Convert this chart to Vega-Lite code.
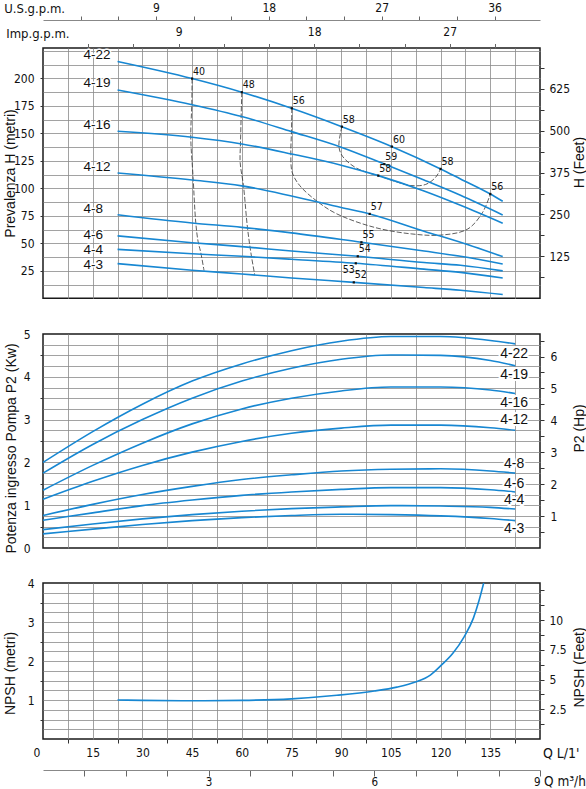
{
  "$schema": "https://vega.github.io/schema/vega-lite/v6.json",
  "padding": {"left": 2, "top": 0, "right": 0, "bottom": 0},
  "bounds": "flush",
  "spacing": 35,
  "config": {
    "view": {"stroke": "#1a1a1a", "strokeWidth": 1.5},
    "axis": {
      "labelFont": "DejaVu Sans Condensed, DejaVu Sans",
      "labelFontSize": 12,
      "labelColor": "#111",
      "titleFont": "Liberation Sans",
      "titleFontSize": 14,
      "titleFontWeight": "normal",
      "titleColor": "#111",
      "gridColor": "#8a8a8a",
      "gridWidth": 0.8,
      "tickColor": "#333",
      "tickWidth": 1,
      "domain": false
    },
    "line": {"color": "#1787d2", "strokeWidth": 1.6}
  },
  "datasets": {
    "head": [
      {"pump": "4-22", "Q": 22.5, "H": 215.2}, {"pump": "4-22", "Q": 45, "H": 199.7}, {"pump": "4-22", "Q": 60, "H": 187.3},
      {"pump": "4-22", "Q": 75, "H": 172.7}, {"pump": "4-22", "Q": 90, "H": 156.2}, {"pump": "4-22", "Q": 105, "H": 138.3},
      {"pump": "4-22", "Q": 120, "H": 117.6}, {"pump": "4-22", "Q": 126, "H": 108.5}, {"pump": "4-22", "Q": 135, "H": 94.8},
      {"pump": "4-22", "Q": 138.75, "H": 88.2},
      {"pump": "4-19", "Q": 22.5, "H": 189.4}, {"pump": "4-19", "Q": 45, "H": 176}, {"pump": "4-19", "Q": 60, "H": 165.2},
      {"pump": "4-19", "Q": 75, "H": 151.5}, {"pump": "4-19", "Q": 90, "H": 137.3}, {"pump": "4-19", "Q": 103, "H": 122},
      {"pump": "4-19", "Q": 115, "H": 107.5}, {"pump": "4-19", "Q": 126, "H": 93.6}, {"pump": "4-19", "Q": 138.75, "H": 75.7},
      {"pump": "4-16", "Q": 22.5, "H": 151.8}, {"pump": "4-16", "Q": 45, "H": 146.4}, {"pump": "4-16", "Q": 60, "H": 140.3},
      {"pump": "4-16", "Q": 75, "H": 131.2}, {"pump": "4-16", "Q": 90, "H": 121}, {"pump": "4-16", "Q": 101.2, "H": 111.5},
      {"pump": "4-16", "Q": 115, "H": 97.5}, {"pump": "4-16", "Q": 126, "H": 84.5}, {"pump": "4-16", "Q": 138.75, "H": 68.2},
      {"pump": "4-12", "Q": 22.5, "H": 113.9}, {"pump": "4-12", "Q": 45, "H": 107.5}, {"pump": "4-12", "Q": 60, "H": 102.2},
      {"pump": "4-12", "Q": 75, "H": 93}, {"pump": "4-12", "Q": 90, "H": 82.5}, {"pump": "4-12", "Q": 98.6, "H": 76.7},
      {"pump": "4-12", "Q": 115, "H": 61}, {"pump": "4-12", "Q": 126, "H": 51}, {"pump": "4-12", "Q": 138.75, "H": 37.9},
      {"pump": "4-8", "Q": 22.5, "H": 76}, {"pump": "4-8", "Q": 45, "H": 68.5}, {"pump": "4-8", "Q": 60, "H": 64.5},
      {"pump": "4-8", "Q": 75, "H": 59.5}, {"pump": "4-8", "Q": 96.1, "H": 50.9}, {"pump": "4-8", "Q": 115, "H": 43},
      {"pump": "4-8", "Q": 126, "H": 38.2}, {"pump": "4-8", "Q": 138.75, "H": 31.2},
      {"pump": "4-6", "Q": 22.5, "H": 56.7}, {"pump": "4-6", "Q": 45, "H": 50.5}, {"pump": "4-6", "Q": 60, "H": 47},
      {"pump": "4-6", "Q": 75, "H": 43}, {"pump": "4-6", "Q": 95, "H": 38.2}, {"pump": "4-6", "Q": 115, "H": 32.5},
      {"pump": "4-6", "Q": 126, "H": 30}, {"pump": "4-6", "Q": 138.75, "H": 24.9},
      {"pump": "4-4", "Q": 22.5, "H": 44.5}, {"pump": "4-4", "Q": 45, "H": 40.5}, {"pump": "4-4", "Q": 60, "H": 38.2},
      {"pump": "4-4", "Q": 75, "H": 35.5}, {"pump": "4-4", "Q": 94.4, "H": 31.8}, {"pump": "4-4", "Q": 115, "H": 26.5},
      {"pump": "4-4", "Q": 126, "H": 23.6}, {"pump": "4-4", "Q": 138.75, "H": 18.5},
      {"pump": "4-3", "Q": 22.5, "H": 31.5}, {"pump": "4-3", "Q": 45, "H": 25.5}, {"pump": "4-3", "Q": 60, "H": 22.1},
      {"pump": "4-3", "Q": 75, "H": 18.5}, {"pump": "4-3", "Q": 93.8, "H": 14.5}, {"pump": "4-3", "Q": 115, "H": 9.8},
      {"pump": "4-3", "Q": 126, "H": 7.3}, {"pump": "4-3", "Q": 138.75, "H": 3.4}
    ],
    "headLabels": [
      {"pump": "4-22", "Q": 12.2, "H": 220.9}, {"pump": "4-19", "Q": 12.2, "H": 195.5},
      {"pump": "4-16", "Q": 12.2, "H": 157.5}, {"pump": "4-12", "Q": 12.2, "H": 119},
      {"pump": "4-8", "Q": 12.2, "H": 81.2}, {"pump": "4-6", "Q": 12.2, "H": 57.2},
      {"pump": "4-4", "Q": 12.2, "H": 44}, {"pump": "4-3", "Q": 12.2, "H": 30}
    ],
    "eff": [
      {"eta": "40", "seq": 1, "Q": 45, "H": 199.7}, {"eta": "40", "seq": 2, "Q": 44.9, "H": 176},
      {"eta": "40", "seq": 3, "Q": 44.6, "H": 146.4}, {"eta": "40", "seq": 4, "Q": 45.3, "H": 110},
      {"eta": "40", "seq": 5, "Q": 46.1, "H": 69}, {"eta": "40", "seq": 6, "Q": 46.8, "H": 51.8},
      {"eta": "40", "seq": 7, "Q": 47.6, "H": 41.8}, {"eta": "40", "seq": 8, "Q": 48.6, "H": 25.2},
      {"eta": "48", "seq": 1, "Q": 60, "H": 187.3}, {"eta": "48", "seq": 2, "Q": 59.8, "H": 165.2},
      {"eta": "48", "seq": 3, "Q": 59.6, "H": 140.3}, {"eta": "48", "seq": 4, "Q": 59.5, "H": 123.6},
      {"eta": "48", "seq": 5, "Q": 60.5, "H": 102.4}, {"eta": "48", "seq": 6, "Q": 61.7, "H": 64.5},
      {"eta": "48", "seq": 7, "Q": 62.8, "H": 40.3}, {"eta": "48", "seq": 8, "Q": 63.9, "H": 21.3},
      {"eta": "56", "seq": 1, "Q": 75.1, "H": 172.7}, {"eta": "56", "seq": 2, "Q": 75, "H": 152},
      {"eta": "56", "seq": 3, "Q": 74.8, "H": 131.2}, {"eta": "56", "seq": 4, "Q": 75.2, "H": 114.5},
      {"eta": "56", "seq": 5, "Q": 77.5, "H": 102.4}, {"eta": "56", "seq": 6, "Q": 83.1, "H": 87.3},
      {"eta": "56", "seq": 7, "Q": 88.7, "H": 76.7}, {"eta": "56", "seq": 8, "Q": 100, "H": 64.5},
      {"eta": "56", "seq": 9, "Q": 111.3, "H": 58.5}, {"eta": "56", "seq": 10, "Q": 120.3, "H": 57.5},
      {"eta": "56", "seq": 11, "Q": 128.2, "H": 63}, {"eta": "56", "seq": 12, "Q": 132.7, "H": 78.2},
      {"eta": "56", "seq": 13, "Q": 135, "H": 94.8},
      {"eta": "58", "seq": 1, "Q": 90.2, "H": 156}, {"eta": "58", "seq": 2, "Q": 89.3, "H": 138.8},
      {"eta": "58", "seq": 3, "Q": 90, "H": 131}, {"eta": "58", "seq": 4, "Q": 91.8, "H": 124.5},
      {"eta": "58", "seq": 5, "Q": 94.5, "H": 118.5}, {"eta": "58", "seq": 6, "Q": 98, "H": 114.2},
      {"eta": "58", "seq": 7, "Q": 101.2, "H": 111.5}, {"eta": "58", "seq": 8, "Q": 106, "H": 106.5},
      {"eta": "58", "seq": 9, "Q": 111, "H": 102.5}, {"eta": "58", "seq": 10, "Q": 115.5, "H": 103.5},
      {"eta": "58", "seq": 11, "Q": 118.5, "H": 110}, {"eta": "58", "seq": 12, "Q": 120, "H": 117.6}
    ],
    "bep": [
      {"eta": "40", "pump": "4-22", "Q": 45, "H": 199.7},
      {"eta": "48", "pump": "4-22", "Q": 60, "H": 187.3},
      {"eta": "56", "pump": "4-22", "Q": 75.1, "H": 172.7},
      {"eta": "58", "pump": "4-22", "Q": 90.2, "H": 156},
      {"eta": "60", "pump": "4-22", "Q": 105.3, "H": 137.9},
      {"eta": "59", "pump": "4-19", "Q": 103, "H": 122},
      {"eta": "58", "pump": "4-16", "Q": 101.2, "H": 111.5},
      {"eta": "58", "pump": "4-22", "Q": 120, "H": 117.6},
      {"eta": "56", "pump": "4-22", "Q": 135, "H": 94.8},
      {"eta": "57", "pump": "4-12", "Q": 98.6, "H": 76.7},
      {"eta": "55", "pump": "4-8", "Q": 96.1, "H": 50.9},
      {"eta": "54", "pump": "4-6", "Q": 95, "H": 38.2},
      {"eta": "53", "pump": "4-4", "Q": 94.4, "H": 31.8},
      {"eta": "52", "pump": "4-3", "Q": 93.8, "H": 14.5}
    ],
    "power": [
      {"pump": "4-22", "Q": 0, "P": 2.0}, {"pump": "4-22", "Q": 15, "P": 2.72}, {"pump": "4-22", "Q": 30, "P": 3.36},
      {"pump": "4-22", "Q": 45, "P": 3.9}, {"pump": "4-22", "Q": 60, "P": 4.3}, {"pump": "4-22", "Q": 75, "P": 4.61},
      {"pump": "4-22", "Q": 90, "P": 4.83}, {"pump": "4-22", "Q": 105, "P": 4.94}, {"pump": "4-22", "Q": 120, "P": 4.94},
      {"pump": "4-22", "Q": 135, "P": 4.85}, {"pump": "4-22", "Q": 142.5, "P": 4.77},
      {"pump": "4-19", "Q": 0, "P": 1.75}, {"pump": "4-19", "Q": 15, "P": 2.42}, {"pump": "4-19", "Q": 30, "P": 3.0},
      {"pump": "4-19", "Q": 45, "P": 3.5}, {"pump": "4-19", "Q": 60, "P": 3.9}, {"pump": "4-19", "Q": 75, "P": 4.2},
      {"pump": "4-19", "Q": 90, "P": 4.41}, {"pump": "4-19", "Q": 105, "P": 4.51}, {"pump": "4-19", "Q": 120, "P": 4.5},
      {"pump": "4-19", "Q": 135, "P": 4.38}, {"pump": "4-19", "Q": 142.5, "P": 4.26},
      {"pump": "4-16", "Q": 0, "P": 1.35}, {"pump": "4-16", "Q": 15, "P": 1.93}, {"pump": "4-16", "Q": 30, "P": 2.45},
      {"pump": "4-16", "Q": 45, "P": 2.9}, {"pump": "4-16", "Q": 60, "P": 3.25}, {"pump": "4-16", "Q": 75, "P": 3.5},
      {"pump": "4-16", "Q": 90, "P": 3.67}, {"pump": "4-16", "Q": 105, "P": 3.76}, {"pump": "4-16", "Q": 120, "P": 3.76},
      {"pump": "4-16", "Q": 135, "P": 3.69}, {"pump": "4-16", "Q": 142.5, "P": 3.61},
      {"pump": "4-12", "Q": 0, "P": 1.14}, {"pump": "4-12", "Q": 15, "P": 1.56}, {"pump": "4-12", "Q": 30, "P": 1.93},
      {"pump": "4-12", "Q": 45, "P": 2.24}, {"pump": "4-12", "Q": 60, "P": 2.49}, {"pump": "4-12", "Q": 75, "P": 2.68},
      {"pump": "4-12", "Q": 90, "P": 2.8}, {"pump": "4-12", "Q": 105, "P": 2.87}, {"pump": "4-12", "Q": 120, "P": 2.87},
      {"pump": "4-12", "Q": 135, "P": 2.81}, {"pump": "4-12", "Q": 142.5, "P": 2.75},
      {"pump": "4-8", "Q": 0, "P": 0.76}, {"pump": "4-8", "Q": 15, "P": 1.02}, {"pump": "4-8", "Q": 30, "P": 1.25},
      {"pump": "4-8", "Q": 45, "P": 1.44}, {"pump": "4-8", "Q": 60, "P": 1.6}, {"pump": "4-8", "Q": 75, "P": 1.71},
      {"pump": "4-8", "Q": 90, "P": 1.8}, {"pump": "4-8", "Q": 105, "P": 1.84}, {"pump": "4-8", "Q": 120, "P": 1.85},
      {"pump": "4-8", "Q": 135, "P": 1.8}, {"pump": "4-8", "Q": 142.5, "P": 1.75},
      {"pump": "4-6", "Q": 0, "P": 0.65}, {"pump": "4-6", "Q": 15, "P": 0.82}, {"pump": "4-6", "Q": 30, "P": 0.99},
      {"pump": "4-6", "Q": 45, "P": 1.12}, {"pump": "4-6", "Q": 60, "P": 1.23}, {"pump": "4-6", "Q": 75, "P": 1.31},
      {"pump": "4-6", "Q": 90, "P": 1.37}, {"pump": "4-6", "Q": 105, "P": 1.41}, {"pump": "4-6", "Q": 120, "P": 1.41},
      {"pump": "4-6", "Q": 135, "P": 1.36}, {"pump": "4-6", "Q": 142.5, "P": 1.31},
      {"pump": "4-4", "Q": 0, "P": 0.43}, {"pump": "4-4", "Q": 15, "P": 0.56}, {"pump": "4-4", "Q": 30, "P": 0.68},
      {"pump": "4-4", "Q": 45, "P": 0.78}, {"pump": "4-4", "Q": 60, "P": 0.86}, {"pump": "4-4", "Q": 75, "P": 0.92},
      {"pump": "4-4", "Q": 90, "P": 0.96}, {"pump": "4-4", "Q": 105, "P": 0.99}, {"pump": "4-4", "Q": 120, "P": 0.98},
      {"pump": "4-4", "Q": 135, "P": 0.95}, {"pump": "4-4", "Q": 142.5, "P": 0.91},
      {"pump": "4-3", "Q": 0, "P": 0.33}, {"pump": "4-3", "Q": 15, "P": 0.44}, {"pump": "4-3", "Q": 30, "P": 0.55},
      {"pump": "4-3", "Q": 45, "P": 0.64}, {"pump": "4-3", "Q": 60, "P": 0.71}, {"pump": "4-3", "Q": 75, "P": 0.76},
      {"pump": "4-3", "Q": 90, "P": 0.79}, {"pump": "4-3", "Q": 105, "P": 0.78}, {"pump": "4-3", "Q": 120, "P": 0.75},
      {"pump": "4-3", "Q": 135, "P": 0.69}, {"pump": "4-3", "Q": 142.5, "P": 0.64}
    ],
    "powerLabels": [
      {"pump": "4-22", "Q": 142.2, "P": 4.53}, {"pump": "4-19", "Q": 142.2, "P": 4.05},
      {"pump": "4-16", "Q": 142.2, "P": 3.39}, {"pump": "4-12", "Q": 142.2, "P": 2.98},
      {"pump": "4-8", "Q": 142.2, "P": 1.96}, {"pump": "4-6", "Q": 142.2, "P": 1.5},
      {"pump": "4-4", "Q": 142.2, "P": 1.11}, {"pump": "4-3", "Q": 142.2, "P": 0.45}
    ],
    "npsh": [
      {"Q": 22.5, "N": 1.0}, {"Q": 30, "N": 0.99}, {"Q": 45, "N": 0.98}, {"Q": 60, "N": 0.99},
      {"Q": 75, "N": 1.03}, {"Q": 88.7, "N": 1.12}, {"Q": 100, "N": 1.23}, {"Q": 106.8, "N": 1.33},
      {"Q": 112.4, "N": 1.46}, {"Q": 116.9, "N": 1.64}, {"Q": 120.3, "N": 1.9}, {"Q": 123.7, "N": 2.2},
      {"Q": 127.1, "N": 2.62}, {"Q": 129.9, "N": 3.1}, {"Q": 131.6, "N": 3.55}, {"Q": 133, "N": 4.0}
    ]
  },
  "vconcat": [
    {
      "width": 497,
      "height": 250.3,
      "resolve": {"axis": {"x": "independent", "y": "independent"}},
      "layer": [
        {
          "data": {"name": "eff"},
          "mark": {"type": "line", "color": "#333", "strokeWidth": 0.8, "strokeDash": [5, 2], "interpolate": "catmull-rom"},
          "encoding": {
            "x": {
              "field": "Q", "type": "quantitative",
              "scale": {"domain": [0, 150], "nice": false, "zero": false},
              "axis": {
                "values": [7.5, 15, 22.5, 30, 37.5, 45, 52.5, 60, 67.5, 75, 82.5, 90, 97.5, 105, 112.5, 120, 127.5, 135, 142.5],
                "grid": true, "labels": false, "ticks": false, "title": null
              }
            },
            "y": {
              "field": "H", "type": "quantitative",
              "scale": {"domain": [0, 227.5], "nice": false},
              "axis": {
                "values": [0, 12.5, 25, 37.5, 50, 62.5, 75, 87.5, 100, 112.5, 125, 137.5, 150, 162.5, 175, 187.5, 200, 212.5, 225],
                "grid": true,
                "gridOpacity": {"condition": {"test": "datum.value === 0", "value": 0}, "value": 1},
                "labelExpr": "datum.value % 25 === 0 && datum.value > 0 && datum.value <= 200 ? '' + datum.value : ''",
                "tickOpacity": {"condition": {"test": "datum.value % 25 === 0 && datum.value > 0 && datum.value <= 200", "value": 1}, "value": 0},
                "tickSize": 3,
                "labelPadding": 6,
                "title": "Prevalenza H (metri)",
                "titleAngle": -90, "titleX": -33, "titleY": 125,
                "titleAlign": "center", "titleBaseline": "middle"
              }
            },
            "detail": {"field": "eta", "type": "nominal"},
            "order": {"field": "seq", "type": "quantitative"}
          }
        },
        {
          "data": {"name": "head"},
          "mark": {"type": "line", "interpolate": "monotone"},
          "encoding": {
            "x": {"field": "Q", "type": "quantitative", "scale": {"domain": [0, 150], "nice": false, "zero": false}, "axis": null},
            "y": {"field": "H", "type": "quantitative", "scale": {"domain": [0, 227.5], "nice": false}, "axis": null},
            "detail": {"field": "pump", "type": "nominal"}
          }
        },
        {
          "data": {"name": "bep"},
          "mark": {"type": "point", "shape": "square", "filled": true, "size": 5, "color": "#111", "opacity": 1},
          "encoding": {
            "x": {"field": "Q", "type": "quantitative", "scale": {"domain": [0, 150], "nice": false, "zero": false}, "axis": null},
            "y": {"field": "H", "type": "quantitative", "scale": {"domain": [0, 227.5], "nice": false}, "axis": null}
          }
        },
        {
          "data": {"name": "bep"},
          "transform": [{"filter": "datum.pump !== '4-4'"}],
          "mark": {"type": "text", "align": "left", "baseline": "middle", "dx": 1, "dy": -7, "font": "DejaVu Sans Condensed, DejaVu Sans", "fontSize": 10.5, "color": "#111"},
          "encoding": {
            "x": {"field": "Q", "type": "quantitative", "scale": {"domain": [0, 150], "nice": false, "zero": false}, "axis": null},
            "y": {"field": "H", "type": "quantitative", "scale": {"domain": [0, 227.5], "nice": false}, "axis": null},
            "text": {"field": "eta", "type": "nominal"}
          }
        },
        {
          "data": {"name": "bep"},
          "transform": [{"filter": "datum.pump === '4-4'"}],
          "mark": {"type": "text", "align": "right", "baseline": "middle", "dx": -1, "dy": 7, "font": "DejaVu Sans Condensed, DejaVu Sans", "fontSize": 10.5, "color": "#111"},
          "encoding": {
            "x": {"field": "Q", "type": "quantitative", "scale": {"domain": [0, 150], "nice": false, "zero": false}, "axis": null},
            "y": {"field": "H", "type": "quantitative", "scale": {"domain": [0, 227.5], "nice": false}, "axis": null},
            "text": {"field": "eta", "type": "nominal"}
          }
        },
        {
          "data": {"name": "headLabels"},
          "mark": {"type": "text", "align": "left", "baseline": "middle", "font": "Liberation Sans", "fontSize": 13.5, "fill": "white", "stroke": "white", "strokeWidth": 3, "strokeJoin": "round"},
          "encoding": {
            "x": {"field": "Q", "type": "quantitative", "scale": {"domain": [0, 150], "nice": false, "zero": false}, "axis": null},
            "y": {"field": "H", "type": "quantitative", "scale": {"domain": [0, 227.5], "nice": false}, "axis": null},
            "text": {"field": "pump", "type": "nominal"}
          }
        },
        {
          "data": {"name": "headLabels"},
          "mark": {"type": "text", "align": "left", "baseline": "middle", "font": "Liberation Sans", "fontSize": 13.5, "color": "#111"},
          "encoding": {
            "x": {"field": "Q", "type": "quantitative", "scale": {"domain": [0, 150], "nice": false, "zero": false}, "axis": null},
            "y": {"field": "H", "type": "quantitative", "scale": {"domain": [0, 227.5], "nice": false}, "axis": null},
            "text": {"field": "pump", "type": "nominal"}
          }
        },
        {
          "data": {"values": [{"Q": 0, "H": 0}]},
          "mark": {"type": "point", "opacity": 0},
          "encoding": {
            "x": {"field": "Q", "type": "quantitative", "scale": {"domain": [0, 150], "nice": false, "zero": false}, "axis": null},
            "y": {
              "field": "H", "type": "quantitative",
              "scale": {"domain": [0, 227.5], "nice": false},
              "axis": {
                "orient": "right",
                "values": [19.05, 38.1, 57.15, 76.2, 95.25, 114.3, 133.35, 152.4, 171.45, 190.5, 209.55],
                "labelExpr": "round(datum.value / 0.3048) % 125 === 0 ? '' + round(datum.value / 0.3048) : ''",
                "grid": false, "tickSize": 4, "labelPadding": 5,
                "title": "H (Feet)", "titleAngle": -90, "titleX": 39, "titleY": 114,
                "titleAlign": "center", "titleBaseline": "middle"
              }
            }
          }
        },
        {
          "data": {"values": [{"Q": 0, "H": 0}]},
          "mark": {"type": "point", "opacity": 0},
          "encoding": {
            "x": {
              "field": "Q", "type": "quantitative",
              "scale": {"domain": [0, 150], "nice": false, "zero": false},
              "axis": {
                "orient": "top", "offset": 28, "domain": true, "domainColor": "#888", "domainWidth": 1,
                "values": [11.356, 22.712, 34.069, 45.425, 56.781, 68.137, 79.494, 90.85, 102.206, 113.562, 124.919, 136.275],
                "labelExpr": "round(datum.value / 3.78541) % 9 === 0 ? '' + round(datum.value / 3.78541) : ''",
                "grid": false, "tickSize": 4, "tickColor": "#666", "labelPadding": 2,
                "title": "U.S.g.p.m.", "titleFont": "DejaVu Sans Condensed, DejaVu Sans", "titleFontSize": 13,
                "titleX": -39.3, "titleY": -11.7, "titleAlign": "left", "titleBaseline": "middle", "titleAngle": 0
              }
            },
            "y": {"field": "H", "type": "quantitative", "scale": {"domain": [0, 227.5], "nice": false}, "axis": null}
          }
        },
        {
          "data": {"values": [{"Q": 0, "H": 0}]},
          "mark": {"type": "point", "opacity": 0},
          "encoding": {
            "x": {
              "field": "Q", "type": "quantitative",
              "scale": {"domain": [0, 150], "nice": false, "zero": false},
              "axis": {
                "orient": "top", "offset": 0,
                "values": [13.638, 27.277, 40.915, 54.553, 68.191, 81.83, 95.468, 109.106, 122.744, 136.383],
                "labelExpr": "round(datum.value / 4.54609) % 9 === 0 ? '' + round(datum.value / 4.54609) : ''",
                "grid": false, "tickSize": 4.5, "tickColor": "#666", "labelPadding": 5,
                "title": "Imp.g.p.m.", "titleFont": "DejaVu Sans Condensed, DejaVu Sans", "titleFontSize": 13,
                "titleX": -37.3, "titleY": -14.7, "titleAlign": "left", "titleBaseline": "middle", "titleAngle": 0
              }
            },
            "y": {"field": "H", "type": "quantitative", "scale": {"domain": [0, 227.5], "nice": false}, "axis": null}
          }
        }
      ]
    },
    {
      "width": 497,
      "height": 214,
      "resolve": {"axis": {"y": "independent"}},
      "layer": [
        {
          "data": {"name": "power"},
          "mark": {"type": "line", "interpolate": "monotone"},
          "encoding": {
            "x": {
              "field": "Q", "type": "quantitative",
              "scale": {"domain": [0, 150], "nice": false, "zero": false},
              "axis": {
                "values": [7.5, 15, 22.5, 30, 37.5, 45, 52.5, 60, 67.5, 75, 82.5, 90, 97.5, 105, 112.5, 120, 127.5, 135, 142.5],
                "grid": true, "labels": false, "ticks": false, "title": null
              }
            },
            "y": {
              "field": "P", "type": "quantitative",
              "scale": {"domain": [0, 5], "nice": false},
              "axis": {
                "values": [0, 0.25, 0.5, 0.75, 1, 1.25, 1.5, 1.75, 2, 2.25, 2.5, 2.75, 3, 3.25, 3.5, 3.75, 4, 4.25, 4.5, 4.75, 5],
                "grid": true,
                "gridOpacity": {"condition": {"test": "datum.value === 0 || datum.value === 5", "value": 0}, "value": 1},
                "labelExpr": "datum.value % 1 === 0 ? '' + datum.value : ''",
                "tickOpacity": {"condition": {"test": "datum.value % 1 === 0.5", "value": 1}, "value": 0},
                "tickSize": 3,
                "labelPadding": 10,
                "title": "Potenza ingresso Pompa P2 (Kw)",
                "titleAngle": -90, "titleX": -32, "titleY": 114,
                "titleAlign": "center", "titleBaseline": "middle"
              }
            },
            "detail": {"field": "pump", "type": "nominal"}
          }
        },
        {
          "data": {"name": "powerLabels"},
          "mark": {"type": "text", "align": "center", "baseline": "middle", "font": "Liberation Sans", "fontSize": 14, "fill": "white", "stroke": "white", "strokeWidth": 4, "strokeJoin": "round"},
          "encoding": {
            "x": {"field": "Q", "type": "quantitative", "scale": {"domain": [0, 150], "nice": false, "zero": false}},
            "y": {"field": "P", "type": "quantitative", "scale": {"domain": [0, 5], "nice": false}, "axis": null},
            "text": {"field": "pump", "type": "nominal"}
          }
        },
        {
          "data": {"name": "powerLabels"},
          "mark": {"type": "text", "align": "center", "baseline": "middle", "font": "Liberation Sans", "fontSize": 14, "color": "#111"},
          "encoding": {
            "x": {"field": "Q", "type": "quantitative", "scale": {"domain": [0, 150], "nice": false, "zero": false}},
            "y": {"field": "P", "type": "quantitative", "scale": {"domain": [0, 5], "nice": false}, "axis": null},
            "text": {"field": "pump", "type": "nominal"}
          }
        },
        {
          "data": {"values": [{"Q": 0, "P": 0}]},
          "mark": {"type": "point", "opacity": 0},
          "encoding": {
            "x": {"field": "Q", "type": "quantitative", "scale": {"domain": [0, 150], "nice": false, "zero": false}},
            "y": {
              "field": "P", "type": "quantitative",
              "scale": {"domain": [0, 5], "nice": false},
              "axis": {
                "orient": "right",
                "values": [0.37285, 0.7457, 1.11855, 1.4914, 1.86425, 2.2371, 2.60995, 2.9828, 3.35565, 3.7285, 4.10135, 4.4742, 4.84705],
                "labelExpr": "round(datum.value / 0.7457 * 2) % 2 === 0 ? '' + round(datum.value / 0.7457) : ''",
                "grid": false, "tickSize": 4, "labelPadding": 6,
                "title": "P2 (Hp)", "titleAngle": -90, "titleX": 39, "titleY": 94,
                "titleAlign": "center", "titleBaseline": "middle"
              }
            }
          }
        }
      ]
    },
    {
      "width": 497,
      "height": 156,
      "resolve": {"axis": {"x": "independent", "y": "independent"}},
      "layer": [
        {
          "data": {"name": "npsh"},
          "mark": {"type": "line", "interpolate": "monotone", "clip": true},
          "encoding": {
            "x": {
              "field": "Q", "type": "quantitative",
              "scale": {"domain": [0, 150], "nice": false, "zero": false},
              "axis": {
                "values": [0, 7.5, 15, 22.5, 30, 37.5, 45, 52.5, 60, 67.5, 75, 82.5, 90, 97.5, 105, 112.5, 120, 127.5, 135, 142.5, 150],
                "grid": true,
                "gridOpacity": {"condition": {"test": "datum.value === 0 || datum.value === 150", "value": 0}, "value": 1},
                "labelExpr": "datum.value % 15 === 0 && datum.value < 150 ? '' + datum.value : ''",
                "labelOffset": {"condition": {"test": "datum.value === 0", "value": -10}, "value": 0},
                "tickOpacity": {"condition": {"test": "datum.value % 15 !== 0", "value": 1}, "value": 0},
                "tickSize": 4, "labelPadding": 4,
                "title": "Q L/1'", "titleFont": "DejaVu Sans Condensed, DejaVu Sans", "titleFontSize": 14,
                "titleX": 499.4, "titleY": 14.3, "titleAlign": "left", "titleBaseline": "middle"
              }
            },
            "y": {
              "field": "N", "type": "quantitative",
              "scale": {"domain": [0, 4], "nice": false},
              "axis": {
                "values": [0, 0.25, 0.5, 0.75, 1, 1.25, 1.5, 1.75, 2, 2.25, 2.5, 2.75, 3, 3.25, 3.5, 3.75, 4],
                "grid": true,
                "gridOpacity": {"condition": {"test": "datum.value === 0 || datum.value === 4", "value": 0}, "value": 1},
                "labelExpr": "datum.value % 1 === 0 && datum.value > 0 ? '' + datum.value : ''",
                "tickOpacity": {"condition": {"test": "datum.value % 1 === 0.5", "value": 1}, "value": 0},
                "tickSize": 3, "labelPadding": 6,
                "title": "NPSH (metri)",
                "titleAngle": -90, "titleX": -33, "titleY": 90,
                "titleAlign": "center", "titleBaseline": "middle"
              }
            }
          }
        },
        {
          "data": {"values": [{"Q": 0, "N": 0}]},
          "mark": {"type": "point", "opacity": 0},
          "encoding": {
            "x": {"field": "Q", "type": "quantitative", "scale": {"domain": [0, 150], "nice": false, "zero": false}, "axis": null},
            "y": {
              "field": "N", "type": "quantitative",
              "scale": {"domain": [0, 4], "nice": false},
              "axis": {
                "orient": "right",
                "values": [0.381, 0.762, 1.143, 1.524, 1.905, 2.286, 2.667, 3.048, 3.429, 3.81],
                "labelExpr": "round(datum.value / 0.3048 * 4) / 4 % 2.5 === 0 && datum.value < 3.1 ? '' + round(datum.value / 0.3048 * 4) / 4 : ''",
                "grid": false, "tickSize": 4, "labelPadding": 5,
                "title": "NPSH (Feet)", "titleAngle": -90, "titleX": 39, "titleY": 84,
                "titleAlign": "center", "titleBaseline": "middle"
              }
            }
          }
        },
        {
          "data": {"values": [{"Q": 0, "N": 0}]},
          "mark": {"type": "point", "opacity": 0},
          "encoding": {
            "x": {
              "field": "Q", "type": "quantitative",
              "scale": {"domain": [0, 150], "nice": false, "zero": false},
              "axis": {
                "orient": "bottom", "offset": 31, "domain": true, "domainColor": "#888", "domainWidth": 1,
                "values": [12.5, 25, 37.5, 50, 62.5, 75, 87.5, 100, 112.5, 125, 137.5, 150],
                "labelExpr": "datum.value % 50 === 0 ? '' + datum.value / 50 * 3 : ''",
                "labelFlush": true,
                "labelFontSize": 11.5,
                "grid": false, "tickSize": 6, "tickColor": "#666", "labelPadding": 0.5,
                "title": "Q m³/h", "titleFont": "DejaVu Sans Condensed, DejaVu Sans", "titleFontSize": 13.5,
                "titleX": 500.5, "titleY": 11.5, "titleAlign": "left", "titleBaseline": "middle"
              }
            },
            "y": {"field": "N", "type": "quantitative", "scale": {"domain": [0, 4], "nice": false}, "axis": null}
          }
        }
      ]
    }
  ]
}
